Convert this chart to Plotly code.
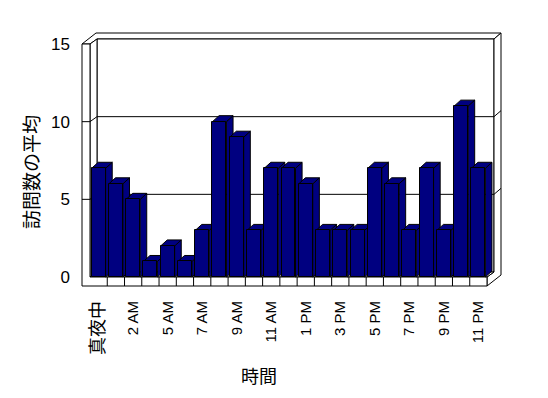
import plotly.graph_objects as go

# ---------------- data ----------------
hours = ["真夜中", "1 AM", "2 AM", "3 AM", "5 AM", "6 AM", "7 AM", "8 AM", "9 AM",
         "10 AM", "11 AM", "正午", "1 PM", "2 PM", "3 PM", "4 PM", "5 PM", "6 PM",
         "7 PM", "8 PM", "9 PM", "10 PM", "11 PM"]
avg_visits = [7, 6, 5, 1, 2, 1, 3, 10, 9, 3, 7, 7, 6, 3, 3, 3, 7, 6, 3, 7, 3, 11, 7]
y_ticks = [0, 5, 10, 15]
x_title = "時間"
y_title = "訪問数の平均"

# ---------------- layout geometry (page pixels, page has an 8px body margin) ----------------
W, H = 548, 398
OFF = 8
def fx(p):  # page x pixel -> figure x pixel
    return p - OFF
def fy(p):
    return p - OFF

FRONT_L, FRONT_R, FRONT_T, FRONT_B = fx(90), fx(487), fy(44), fy(277)
N = len(hours)
YMAX = 15
sx = (FRONT_R - FRONT_L) / N          # px per category
sy = (FRONT_B - FRONT_T) / YMAX       # px per value unit
XL, XR = -0.5, N - 0.5
xr_full = [XL - FRONT_L / sx, XL + (W - FRONT_L) / sx]
yr_full = [-(H - FRONT_B) / sy, FRONT_B / sy]

def dx(p):
    return p / sx

def dy(p):
    return p / sy

NAVY = "#000080"
wdx, wdy = dx(7), dy(5)        # wall depth
tlx = dx(8)                    # left wall thickness
tbx, tby = dx(7), dy(6)        # back wall thickness
tf = dy(9)                     # floor thickness
bw = 0.81                      # bar front width
bdx, bdy = dx(6.6), dy(6)      # bar depth

def path(pts, close=True):
    s = "M " + " L ".join(f"{x:.4f},{y:.4f}" for x, y in pts)
    return s + (" Z" if close else "")

shape_style = dict(xref="x", yref="y", line=dict(color="black", width=1), layer="below")
shapes = []
y0, y1 = 0, YMAX
# top face of walls
shapes.append(dict(type="path", fillcolor="white", path=path([
    (XL - tlx, y1), (XL, y1), (XL + wdx, y1 + wdy), (XR + wdx, y1 + wdy),
    (XR + wdx + tbx, y1 + wdy + tby), (XL - tlx + wdx + tbx, y1 + wdy + tby)]), **shape_style))
# back wall inner face
shapes.append(dict(type="path", fillcolor="white", path=path([
    (XL + wdx, y0 + wdy), (XR + wdx, y0 + wdy), (XR + wdx, y1 + wdy), (XL + wdx, y1 + wdy)]), **shape_style))
# left wall inner face
shapes.append(dict(type="path", fillcolor="white", path=path([
    (XL, y1), (XL + wdx, y1 + wdy), (XL + wdx, y0 + wdy), (XL, y0)]), **shape_style))
# right side of back wall / floor
shapes.append(dict(type="path", fillcolor="white", path=path([
    (XR, y0), (XR + wdx, y0 + wdy), (XR + wdx, y1 + wdy), (XR + wdx + tbx, y1 + wdy + tby),
    (XR + wdx + tbx, y0 - tf + wdy + tby), (XR, y0 - tf)]), **shape_style))
# floor top
shapes.append(dict(type="path", fillcolor="white", path=path([
    (XL, y0), (XR, y0), (XR + wdx, y0 + wdy), (XL + wdx, y0 + wdy)]), **shape_style))
# front L (left wall front + floor front)
shapes.append(dict(type="path", fillcolor="white", path=path([
    (XL - tlx, y1), (XL, y1), (XL, y0), (XR, y0), (XR, y0 - tf), (XL - tlx, y0 - tf)]), **shape_style))
# gridlines
for v in y_ticks[1:-1]:
    shapes.append(dict(type="path", path=path([
        (XL - tlx, v), (XL, v), (XL + wdx, v + wdy), (XR + wdx, v + wdy),
        (XR + wdx + tbx, v + wdy + tby)], close=False), **shape_style))
# floor tick marks at category boundaries
for k in range(N - 1):
    shapes.append(dict(type="line", x0=k + 0.5, x1=k + 0.5, y0=y0, y1=y0 - tf, **shape_style))

# ---------------- 3D bar faces ----------------
side_x, side_y, top_x, top_y = [], [], [], []
for i, v in enumerate(avg_visits):
    l, r = i - bw / 2, i + bw / 2
    for px_, py_ in [(r, 0), (r, v), (r + bdx, v + bdy), (r + bdx, bdy), (r, 0)]:
        side_x.append(px_); side_y.append(py_)
    side_x.append(None); side_y.append(None)
    for px_, py_ in [(l, v), (r, v), (r + bdx, v + bdy), (l + bdx, v + bdy), (l, v)]:
        top_x.append(px_); top_y.append(py_)
    top_x.append(None); top_y.append(None)

fig = go.Figure()
face = dict(mode="lines", fill="toself", fillcolor=NAVY, line=dict(color="black", width=1),
            hoverinfo="skip", showlegend=False, xaxis="x", yaxis="y")
fig.add_trace(go.Scatter(x=side_x, y=side_y, **face))
fig.add_trace(go.Scatter(x=top_x, y=top_y, **face))
fig.add_trace(go.Bar(x=list(range(N)), y=avg_visits, width=bw, xaxis="x2", yaxis="y2",
                     marker=dict(color=NAVY, line=dict(color="black", width=1)),
                     hoverinfo="skip", showlegend=False))

tick_idx = list(range(0, N, 2))
tick_text = []
for i in tick_idx:
    t = hours[i]
    if any(ord(c) > 0x2E80 for c in t):
        t = f'<span style="font-size:18px;font-family:Noto Sans CJK JP">{t}</span>'
    tick_text.append(t)

fig.update_layout(
    width=W, height=H, margin=dict(l=0, r=0, t=0, b=0, autoexpand=False),
    paper_bgcolor="white", plot_bgcolor="rgba(0,0,0,0)",
    font=dict(family="Liberation Sans, Arial, Noto Sans CJK JP", color="black", size=15),
    shapes=shapes, showlegend=False, bargap=0,
    xaxis=dict(domain=[0, 1], range=xr_full, anchor="free", position=(H - fy(297)) / H,
               tickmode="array", tickvals=tick_idx, ticktext=tick_text, tickangle=-90,
               tickfont=dict(size=15), showgrid=False, zeroline=False, showline=False, ticks=""),
    yaxis=dict(domain=[0, 1], range=yr_full, anchor="free", position=fx(70) / W,
               tickmode="array", tickvals=y_ticks, tickfont=dict(size=17),
               showgrid=False, zeroline=False, showline=False, ticks=""),
    xaxis2=dict(overlaying="x", range=xr_full, visible=False, anchor="y2"),
    yaxis2=dict(overlaying="y", range=yr_full, visible=False, anchor="x2"),
    annotations=[
        dict(text=y_title, xref="paper", yref="paper", x=fx(30) / W, y=(H - fy(172)) / H,
             xanchor="center", yanchor="middle",
             textangle=-90, showarrow=False, font=dict(size=19, family="Noto Sans CJK JP")),
        dict(text=x_title, xref="paper", yref="paper", x=fx(259) / W, y=(H - fy(375)) / H,
             xanchor="center", yanchor="middle",
             showarrow=False, font=dict(size=18, family="Noto Sans CJK JP")),
    ],
)
fig.write_html("out.html")
